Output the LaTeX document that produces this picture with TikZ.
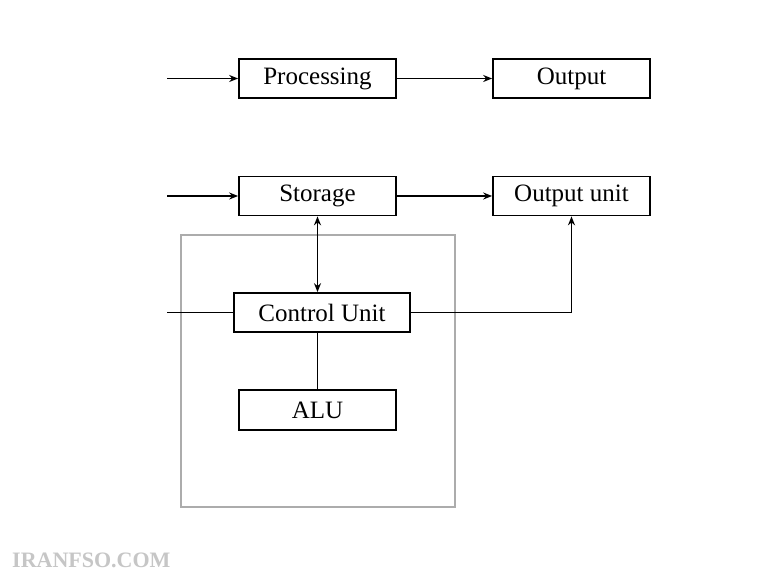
\documentclass[tikz,border=0pt]{standalone}
\usepackage{fontspec}
\setmainfont{Liberation Serif}
\usetikzlibrary{arrows.meta}
\tikzset{
  unit/.style={draw, line width=1.7pt, minimum height=39pt, inner sep=0pt, font=\fontsize{25}{28}\selectfont},
  link/.style={line width=1.7pt}
}
\begin{document}
\begin{tikzpicture}[x=1pt, y=-1pt, >={Stealth[length=9pt, width=7pt]}]
  \useasboundingbox[fill=white] (0,0) rectangle (780,585);

  % 外框 (CPU)
  \draw[gray!65, line width=1.6pt] (181,235) rectangle (455,507);

  % 方框
  \node[unit, minimum width=157pt] (proc) at (317.5,78.5) {Processing};
  \node[unit, minimum width=157pt] (out)  at (571.5,78.5) {Output};
  \node[unit, minimum width=157pt] (stor) at (317.5,196) {Storage};
  \node[unit, minimum width=157pt] (outu) at (571.5,196) {Output unit};
  \node[unit, minimum width=176pt] (cu)   at (322,312.5) {Control Unit};
  \node[unit, minimum width=157pt, minimum height=40pt] (alu) at (317.5,410) {ALU};

  % 输入端
  \coordinate (inP) at (167,78.5);
  \coordinate (inS) at (167,196);
  \coordinate (inC) at (167,312.5);

  % 连线
  \draw[link, ->] (inP) -- (proc);
  \draw[link, ->] (proc) -- (out);
  \draw[link, ->] (inS) -- (stor);
  \draw[link, ->] (stor) -- (outu);
  \draw[link] (inC) -- (cu);
  \draw[link, <->] (stor.south) -- (stor.south |- cu.north);
  \draw[link] (alu.north) -- (alu.north |- cu.south);
  \draw[link, ->] (cu.east) -| (outu.south);

  % 水印
  \node[anchor=west, inner sep=0pt, text=gray!45, font=\bfseries\fontsize{22}{25}\selectfont] (mark) at (12,560) {IRANFSO.COM};
\end{tikzpicture}
\end{document}
